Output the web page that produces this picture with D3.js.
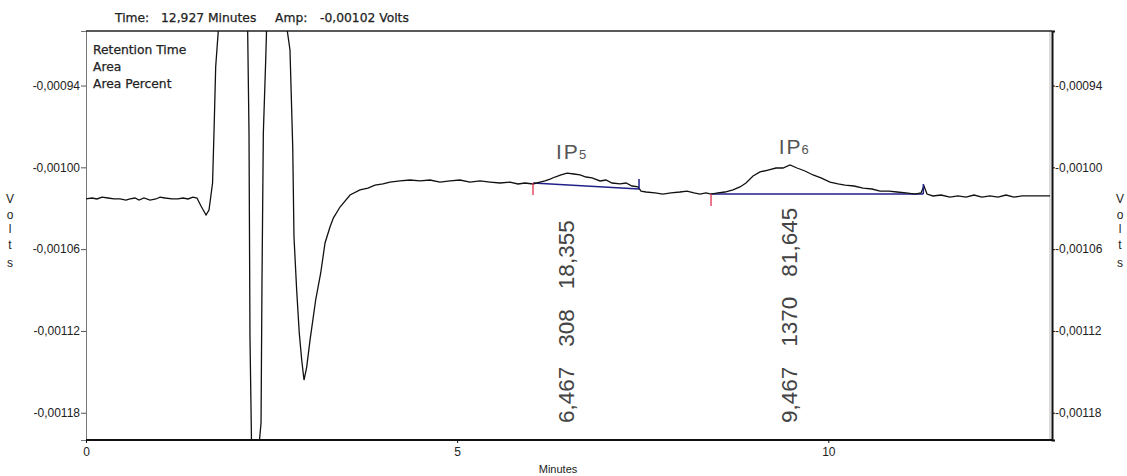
<!DOCTYPE html>
<meta charset="utf-8">
<style>
  body { margin: 0; background: #fff; }
  .tick text, .lbl { font-family: "Liberation Sans", Arial, sans-serif; font-size: 12px; fill: #222; }
  .hdr { font-family: "DejaVu Sans", sans-serif; font-size: 12.3px; fill: #222; stroke: #222; stroke-width: 0.25px; }
  .peakNum { font-family: "Liberation Sans", Arial, sans-serif; font-size: 22.5px; fill: #444; }
  .peakName { font-family: "Liberation Sans", Arial, sans-serif; font-size: 21px; fill: #555; letter-spacing: 2px; }
</style>
<body>
<script src="https://cdn.jsdelivr.net/npm/d3@7"></script>
<script>

// chromatogram trace (minutes, volts)
const traceTime = [0.000, 0.081, 0.148, 0.216, 0.296, 0.377, 0.458, 0.539, 0.593, 0.660, 0.714, 0.781, 0.862, 0.943, 0.997,
  1.064, 1.159, 1.239, 1.307, 1.374, 1.441, 1.495, 1.549, 1.617, 1.657, 1.705, 1.727, 1.747, 1.782, 1.805, 1.967, 2.142,
  2.178, 2.196, 2.209, 2.232, 2.321, 2.358, 2.371, 2.389, 2.421, 2.432, 2.452, 2.573, 2.681, 2.712, 2.748, 2.785, 2.802,
  2.838, 2.873, 2.906, 2.937, 2.973, 3.018, 3.094, 3.162, 3.220, 3.287, 3.332, 3.422, 3.557, 3.691, 3.799, 3.893, 4.001,
  4.095, 4.230, 4.365, 4.500, 4.634, 4.769, 4.904, 5.038, 5.173, 5.308, 5.443, 5.577, 5.712, 5.820, 5.914, 6.022, 6.116,
  6.184, 6.251, 6.318, 6.399, 6.480, 6.574, 6.655, 6.736, 6.817, 6.925, 7.005, 7.086, 7.194, 7.275, 7.356, 7.437, 7.477,
  7.544, 7.665, 7.773, 7.881, 8.002, 8.096, 8.190, 8.271, 8.352, 8.420, 8.514, 8.608, 8.716, 8.810, 8.891, 8.986, 9.080,
  9.188, 9.295, 9.390, 9.484, 9.578, 9.686, 9.794, 9.901, 10.023, 10.131, 10.225, 10.346, 10.468, 10.589, 10.697, 10.818,
  10.926, 11.047, 11.168, 11.249, 11.289, 11.330, 11.410, 11.518, 11.639, 11.747, 11.855, 11.963, 12.070, 12.178, 12.286,
  12.394, 12.502, 12.609, 12.717, 12.852, 12.987]

const traceVolts = [-0.0010232, -0.0010225, -0.0010232, -0.0010218, -0.0010225, -0.0010232, -0.0010232, -0.0010240,
  -0.0010232, -0.0010225, -0.0010240, -0.0010225, -0.0010240, -0.0010232, -0.0010218, -0.0010225, -0.0010232, -0.0010232,
  -0.0010225, -0.0010232, -0.0010218, -0.0010225, -0.0010284, -0.0010350, -0.0010313, -0.0010115, -0.0009690, -0.0009264,
  -0.0009000, -0.00088, -0.00080, -0.00088, -0.0009000, -0.0009748, -0.0011245, -0.00121, -0.00121, -0.0011875,
  -0.0010826, -0.0009748, -0.0009213, -0.0009000, -0.00088, -0.00080, -0.00088, -0.0009000, -0.0009139, -0.0009851,
  -0.0010511, -0.0010900, -0.0011215, -0.0011413, -0.0011560, -0.0011465, -0.0011267, -0.0010973, -0.0010775, -0.0010555,
  -0.0010438, -0.0010372, -0.0010291, -0.0010203, -0.0010166, -0.0010152, -0.0010130, -0.0010122, -0.0010108, -0.0010100,
  -0.0010093, -0.0010100, -0.0010093, -0.0010108, -0.0010100, -0.0010093, -0.0010108, -0.0010100, -0.0010108, -0.0010115,
  -0.0010108, -0.0010122, -0.0010115, -0.0010122, -0.0010108, -0.0010100, -0.0010086, -0.0010071, -0.0010056, -0.0010042,
  -0.0010049, -0.0010056, -0.0010071, -0.0010078, -0.0010100, -0.0010093, -0.0010115, -0.0010122, -0.0010115, -0.0010137,
  -0.0010144, -0.0010174, -0.0010181, -0.0010188, -0.0010196, -0.0010188, -0.0010181, -0.0010174, -0.0010188, -0.0010196,
  -0.0010188, -0.0010196, -0.0010188, -0.0010181, -0.0010166, -0.0010144, -0.0010115, -0.0010064, -0.0010034, -0.0010020,
  -0.0010005, -0.0010005, -0.0009983, -0.0010005, -0.0010027, -0.0010056, -0.0010078, -0.0010108, -0.0010122, -0.0010130,
  -0.0010137, -0.0010152, -0.0010159, -0.0010174, -0.0010174, -0.0010181, -0.0010188, -0.0010196, -0.0010188, -0.0010137,
  -0.0010196, -0.0010210, -0.0010203, -0.0010218, -0.0010210, -0.0010218, -0.0010203, -0.0010218, -0.0010210, -0.0010218,
  -0.0010203, -0.0010218, -0.0010210, -0.0010210, -0.0010210, -0.0010210]

// integrated peaks
const peakNames = ["5", "6"]
const peakRT = [6.467, 9.467]
const peakArea = [308, 1370]
const peakPct = [18.355, 81.645]
const peakStart = [6.022, 8.420]
const peakEnd = [7.450, 11.280]
const baseStartV = [-0.0010115, -0.0010196]
const baseEndV = [-0.0010159, -0.0010196]

const xTicks = [0, 5, 10]
const yTicks = [-0.00094, -0.00100, -0.00106, -0.00112, -0.00118]

const W = 1127, H = 476
const plot = {left: 86, right: 1051, top: 31, bottom: 440}

const loc = d3.formatLocale({decimal: ",", thousands: ".", grouping: [3], currency: ["", ""], minus: "-"})
const f3 = loc.format(".3f"), f5 = loc.format(".5f")

const svg = d3.select("body").append("svg")
  .attr("width", W).attr("height", H)

const x = d3.scaleLinear().domain([0, 13]).range([plot.left, plot.left + 13 * 74.23])
const y = d3.scaleLinear().domain([-0.00120, -0.00090]).range([plot.bottom, plot.top])

svg.append("clipPath").attr("id", "clip")
  .append("rect")
    .attr("x", plot.left).attr("y", plot.top)
    .attr("width", plot.right - plot.left).attr("height", plot.bottom - plot.top)

// header
const hdr = [["Time:", 115], ["12,927 Minutes", 161], ["Amp:", 275], ["-0,00102 Volts", 320]]
hdr.forEach(([t, px]) => svg.append("text").attr("class", "hdr").attr("x", px).attr("y", 22).text(t))

// axes
svg.append("g")
  .attr("transform", `translate(${plot.left},0)`)
  .call(d3.axisLeft(y).tickValues(yTicks).tickSize(5).tickPadding(1).tickFormat(f5))
  .call(g => g.select(".domain").attr("stroke", "#777"))
  .call(g => g.selectAll(".tick line").attr("stroke", "#555"))

svg.append("g")
  .attr("transform", `translate(${plot.right + 1},0)`)
  .call(d3.axisRight(y).tickValues(yTicks).tickSize(3).tickPadding(0).tickFormat(f5))
  .call(g => g.select(".domain").attr("stroke", "#111").attr("stroke-width", 2))
  .call(g => g.selectAll(".tick line").attr("stroke", "#111"))

svg.append("line")
  .attr("x1", plot.right - 1).attr("x2", plot.right - 1)
  .attr("y1", plot.top).attr("y2", plot.bottom)
  .attr("stroke", "#bbb")

svg.append("g")
  .attr("transform", `translate(0,${plot.bottom})`)
  .call(d3.axisBottom(x).tickValues(xTicks).tickSize(3).tickPadding(4).tickFormat(d3.format("d")))
  .call(g => g.select(".domain").remove())
  .call(g => g.selectAll(".tick line").attr("stroke", "#111"))

svg.append("line")
  .attr("x1", plot.left).attr("x2", plot.right + 2)
  .attr("y1", plot.bottom).attr("y2", plot.bottom)
  .attr("stroke", "#111").attr("stroke-width", 2)

svg.append("line")
  .attr("x1", plot.left).attr("x2", plot.right + 1)
  .attr("y1", plot.top).attr("y2", plot.top)
  .attr("stroke", "#222").attr("stroke-width", 1.5)

svg.append("text").attr("class", "lbl")
  .attr("x", 558).attr("y", 473).attr("text-anchor", "middle")
  .style("font-size", "11px")
  .text("Minutes")

// stacked "Volts" labels
const voltsY = [203, 219, 233, 249, 267]
;[10, 1120].forEach(px => {
  "Volts".split("").forEach((c, i) => {
    svg.append("text").attr("class", "lbl")
      .attr("x", px).attr("y", voltsY[i]).attr("text-anchor", "middle")
      .text(c)
  })
})

// legend
;["Retention Time", "Area", "Area Percent"].forEach((t, i) => {
  svg.append("text").attr("class", "hdr")
    .attr("x", 93).attr("y", 54 + i * 17).text(t)
})

// trace
const pts = traceTime.map((t, i) => [t, traceVolts[i]])
const line = d3.line().x(d => x(d[0])).y(d => y(d[1]))

const area = svg.append("g").attr("clip-path", "url(#clip)")

// peak baselines
area.selectAll(".base")
  .data(peakRT)
  .enter().append("line")
    .attr("x1", (d, i) => x(peakStart[i]))
    .attr("x2", (d, i) => x(peakEnd[i]))
    .attr("y1", (d, i) => y(baseStartV[i]))
    .attr("y2", (d, i) => y(baseEndV[i]))
    .attr("stroke", "#20208a").attr("stroke-width", 1.5)

area.append("path")
  .datum(pts)
  .attr("d", line)
  .attr("fill", "none")
  .attr("stroke", "#111")
  .attr("stroke-width", 1.3)

// start / end markers
peakRT.forEach((d, i) => {
  area.append("line")
    .attr("x1", x(peakStart[i])).attr("x2", x(peakStart[i]))
    .attr("y1", y(baseStartV[i])).attr("y2", y(baseStartV[i]) + 12)
    .attr("stroke", "#e03050").attr("stroke-width", 1.3)
  area.append("line")
    .attr("x1", x(peakEnd[i])).attr("x2", x(peakEnd[i]))
    .attr("y1", y(baseEndV[i])).attr("y2", y(baseEndV[i]) - 10)
    .attr("stroke", "#20208a").attr("stroke-width", 1.5)
})

// peak names
const nameY = [159, 154]
peakRT.forEach((d, i) => {
  const t = svg.append("text").attr("class", "peakName")
    .attr("x", x(d) - 10).attr("y", nameY[i])
  t.append("tspan").text("IP")
  t.append("tspan").style("font-size", "13px").attr("dx", -1).text(peakNames[i])
})

// vertical peak annotations
peakRT.forEach((d, i) => {
  const t = svg.append("text").attr("class", "peakNum")
    .attr("transform", `translate(${x(d) + 8},423) rotate(-90)`)
  t.append("tspan").text(f3(d))
  t.append("tspan").attr("dx", 20).text(peakArea[i])
  t.append("tspan").attr("dx", 20).text(f3(peakPct[i]))
})

</script>
</body>
